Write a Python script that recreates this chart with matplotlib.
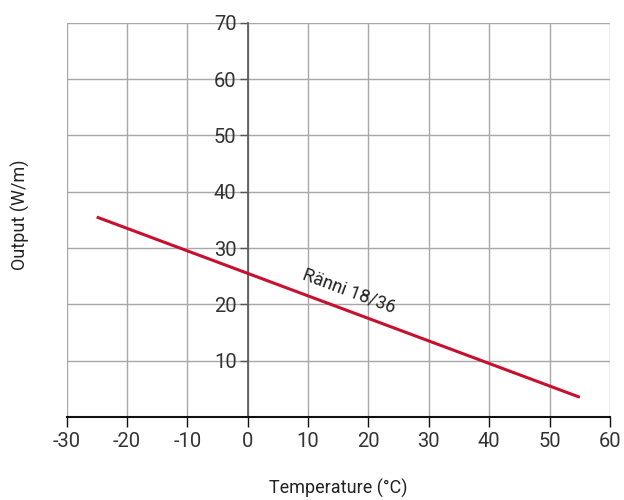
import matplotlib
matplotlib.use("Agg")
import matplotlib.pyplot as plt

# data
temperature = [-25, 55]      # °C
output = [35.5, 3.5]         # W/m
series_label = "Ränni 18/36"
x_ticks = list(range(-30, 61, 10))
y_ticks = list(range(10, 71, 10))

plt.rcParams['font.family'] = ['Roboto', 'DejaVu Sans']
plt.rcParams['axes.unicode_minus'] = False

fig = plt.figure(figsize=(6.24, 5.0), dpi=100)
ax = fig.add_axes([0.1066, 0.166, 0.871, 0.7886])

ax.plot(temperature, output, color='#c8102e', linewidth=2.2, solid_capstyle='butt', zorder=3)
ax.text(16.8, 22.3, series_label, rotation=-20.5, ha='center', va='center',
        fontsize=13, color='#222222', rotation_mode='anchor')

ax.set_xlim(-30, 60)
ax.set_ylim(0, 70)
ax.set_xticks(x_ticks)
ax.set_yticks(y_ticks)
ax.grid(True, color='#a8a8a8', linewidth=1.0)
ax.set_axisbelow(True)

# spines: y axis through x=0, x axis at bottom
ax.spines['top'].set_visible(False)
ax.spines['right'].set_visible(False)
ax.spines['left'].set_position(('data', 0))
ax.spines['left'].set_color('#555555')
ax.spines['left'].set_linewidth(1.2)
ax.spines['bottom'].set_color('#111111')
ax.spines['bottom'].set_linewidth(1.5)

ax.tick_params(axis='y', length=6, width=1, color='#555555', pad=2,
               labelsize=14.5, labelcolor='#333333')
ax.tick_params(axis='x', length=7, width=1, color='#111111', pad=4,
               labelsize=14.5, labelcolor='#333333')

fig.text(0.0335, 0.57, "Output (W/m)", rotation=90, ha='center', va='center',
         fontsize=13, color='#222222')
fig.text(0.542, 0.024, "Temperature (°C)", ha='center', va='center',
         fontsize=13, color='#222222')

fig.savefig("out.png", dpi=100)
